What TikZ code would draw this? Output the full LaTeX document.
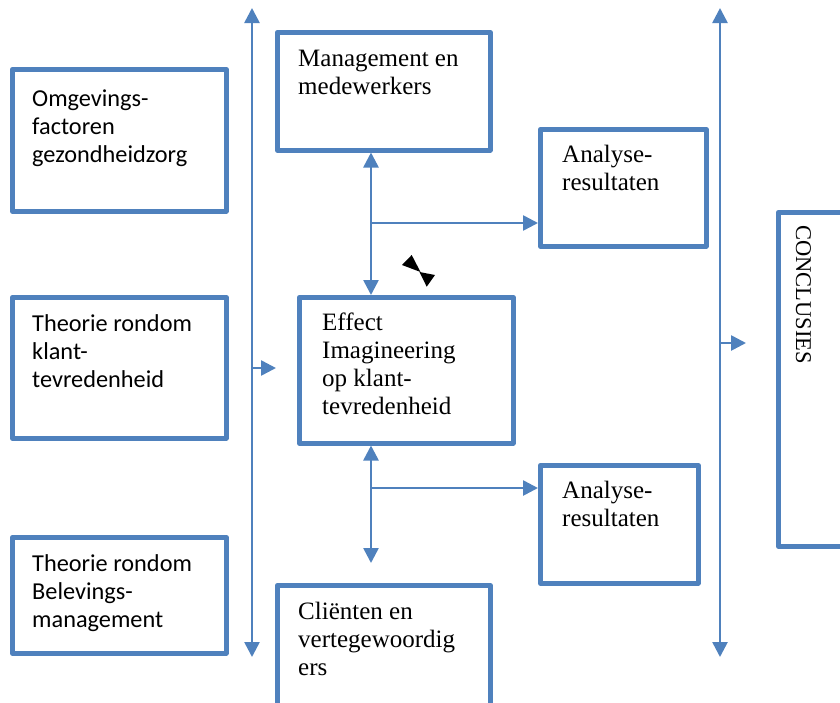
\documentclass[tikz,border=0pt]{standalone}
\usepackage{fontspec}
\setmainfont{Liberation Serif}
\newfontfamily\calib{Carlito}
\usetikzlibrary{arrows.meta,calc}
\definecolor{ofblue}{HTML}{4F81BD}

\begin{document}
\begin{tikzpicture}[x=1pt,y=-1pt,
  frame/.style={draw=ofblue, line width=4.5pt, line join=round, fill=white,
    inner sep=0pt, anchor=north west},
  flow/.style={draw=ofblue, line width=2.6pt, -{Triangle[length=15pt,width=15pt]}},
  both/.style={draw=ofblue, line width=2.6pt,
    {Triangle[length=15pt,width=15pt]}-{Triangle[length=15pt,width=15pt]}},
  sanstxt/.style={anchor=north west, inner sep=0pt, align=left,
    font=\calib\fontsize{24.3}{28}\selectfont},
  seriftxt/.style={anchor=north west, inner sep=0pt, align=left,
    font=\fontsize{25}{28}\selectfont},
]
\useasboundingbox (0,0) rectangle (840,702);

% left column: background topics (positions are outer corners)
\node[frame, minimum width=214pt, minimum height=142pt] (omg) at (10,67) {};
\node[frame, minimum width=214pt, minimum height=141pt] (klant) at (10,295) {};
\node[frame, minimum width=214pt, minimum height=116pt] (bel) at (10,535) {};
\node[sanstxt] (omgT) at (32,86.4) {\strut Omgevings-\\factoren\\gezondheidzorg};
\node[sanstxt] (klantT) at (32,311.4) {\strut Theorie rondom\\klant-\\tevredenheid};
\node[sanstxt] (belT) at (32,551.4) {\strut Theorie rondom\\Belevings-\\management};

% middle column: research units
\node[frame, minimum width=213pt, minimum height=118pt] (mgt) at (275,30) {};
\node[frame, minimum width=214pt, minimum height=146pt] (eff) at (297,295) {};
\node[frame, minimum width=213pt, minimum height=140pt] (cli) at (275,583) {};
\node[seriftxt] (mgtT) at (298,47.1) {\strut Management en\\medewerkers};
\node[seriftxt] (effT) at (322,311.1) {\strut Effect\\Imagineering\\op klant-\\tevredenheid};
\node[seriftxt] (cliT) at (298,600.1) {\strut Cliënten en\\vertegewoordig\\ers};

% analysis results
\node[frame, minimum width=166pt, minimum height=117pt] (an1) at (538,127) {};
\node[frame, minimum width=158pt, minimum height=118pt] (an2) at (538,463) {};
\node[seriftxt] (an1T) at (562,143.1) {\strut Analyse-\\resultaten};
\node[seriftxt] (an2T) at (562,479.1) {\strut Analyse-\\resultaten};

% conclusions, partly outside the frame
\node[frame, minimum width=80pt, minimum height=334pt] (con) at (776,210) {};
\node[anchor=base west, inner sep=0pt, rotate=-90,
  font=\fontsize{22.5}{28}\selectfont] (conT) at (796,225) {CONCLUSIES};

% vertical collector lines
\coordinate (lTop) at (252,8);
\coordinate (lBot) at (252,657);
\coordinate (rTop) at (720,8);
\coordinate (rBot) at (720,657);
\draw[both] (lBot) -- (lTop);
\draw[both] (rBot) -- (rTop);
\coordinate (lOut) at (252,368);
\coordinate (lEnd) at (276,368);
\draw[flow] (lOut) -- (lEnd);
\coordinate (rOut) at (720,343);
\coordinate (rEnd) at (746,343);
\draw[flow] (rOut) -- (rEnd);

% links around the central unit
\coordinate (vx) at (371,0);
\draw[both] (mgt.south -| vx) -- (eff.north -| vx);
\coordinate (br1) at (371,223);
\draw[flow] (br1) -- (br1 -| an1.west);
\coordinate (dn) at (371,563);
\draw[both] (eff.south -| vx) -- (dn);
\coordinate (br2) at (371,488);
\draw[flow] (br2) -- (br2 -| an2.west);

% small bow-tie mark
\fill[black] (402,265) -- (411.7,255) -- (420.5,272) -- cycle;
\fill[black] (419.5,272) -- (435,275) -- (426.7,286.7) -- cycle;
\end{tikzpicture}
\end{document}
